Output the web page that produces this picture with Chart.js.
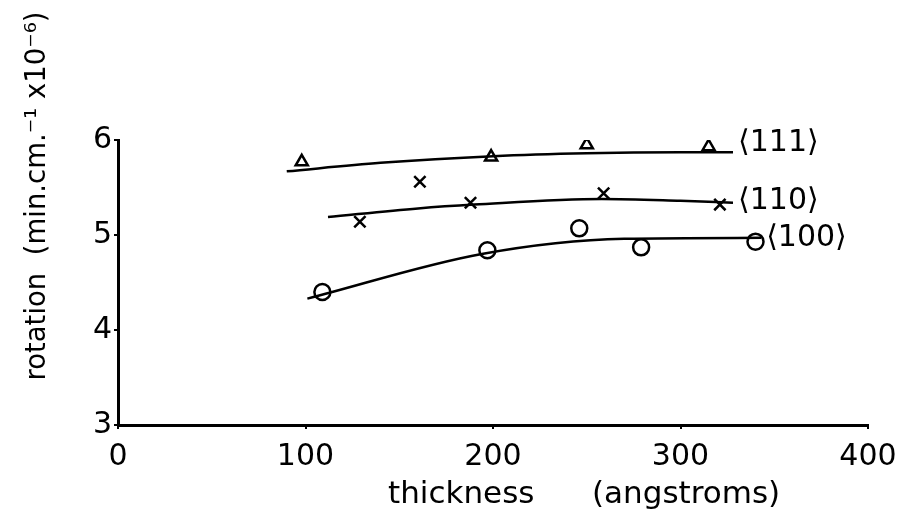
<!DOCTYPE html>
<html>
<head>
<meta charset="utf-8">
<script src="https://cdn.jsdelivr.net/npm/chart.js@4"></script>
<style>
  body { margin: 0; background: #fff; }
  canvas { display: block; }
</style>
</head>
<body>
<canvas id="chart" width="898" height="522"></canvas>
<script>
// measured points
const thick111 = [98, 144, 199, 250, 315];
const rot111 = [5.77, 6.05, 5.82, 5.95, 5.93];
const thick110 = [129, 161, 188, 259, 321];
const rot110 = [5.14, 5.56, 5.34, 5.44, 5.32];
const thick100 = [109, 197, 246, 279, 340];
const rot100 = [4.40, 4.84, 5.07, 4.87, 4.93];

// hand-drawn curves through the points
const curveX111 = [90, 140, 200, 250, 300, 328];
const curveY111 = [5.67, 5.76, 5.83, 5.86, 5.87, 5.87];
const curveX110 = [112, 160, 190, 258, 300, 328];
const curveY110 = [5.19, 5.28, 5.32, 5.38, 5.36, 5.34];
const curveX100 = [101, 194, 270, 343];
const curveY100 = [4.33, 4.80, 4.96, 4.97];

const curveLabels = ['\u27E8111\u27E9', '\u27E8110\u27E9', '\u27E8100\u27E9'];
const xTicks = [0, 100, 200, 300, 400];
const yTicks = [3, 4, 5, 6];

const FONT = '"DejaVu Sans", sans-serif';
const pts = (xs, ys) => xs.map((x, i) => ({ x: x, y: ys[i] }));

const markerSet = (data, style, radius) => ({
  type: 'scatter',
  data: data,
  pointStyle: style,
  pointRadius: radius,
  pointBorderWidth: 2.5,
  pointBorderColor: '#000',
  pointBackgroundColor: 'rgba(0,0,0,0)',
  showLine: false
});

const curveSet = (data) => ({
  type: 'line',
  data: data,
  borderColor: '#000',
  borderWidth: 2.5,
  pointRadius: 0,
  cubicInterpolationMode: 'monotone',
  fill: false
});

const curves = [pts(curveX111, curveY111), pts(curveX110, curveY110), pts(curveX100, curveY100)];
const labelDy = [-9, -1, 0];

const textPlugin = {
  id: 'texts',
  afterDraw(chart) {
    const c = chart.ctx;
    const xs = chart.scales.x, ys = chart.scales.y;
    c.save();
    c.fillStyle = '#000';
    c.font = '30px ' + FONT;
    c.textBaseline = 'middle';
    c.textAlign = 'left';
    curves.forEach((d, i) => {
      const last = d[d.length - 1];
      c.fillText(curveLabels[i], xs.getPixelForValue(last.x) + 5, ys.getPixelForValue(last.y) + labelDy[i]);
    });
    // axis titles
    c.font = '31px ' + FONT;
    c.fillText('thickness', 388, 495);
    c.fillText('(angstroms)', 592, 495);
    c.textAlign = 'center';
    c.font = '27.5px ' + FONT;
    c.translate(38, 196);
    c.rotate(-Math.PI / 2);
    c.fillText('rotation  (min.cm.\u207B\u00B9 x10\u207B\u2076)', 0, 0);
    c.restore();
  }
};

new Chart(document.getElementById('chart'), {
  data: {
    datasets: [
      markerSet(pts(thick111, rot111), 'triangle', 7),
      markerSet(pts(thick110, rot110), 'crossRot', 8),
      markerSet(pts(thick100, rot100), 'circle', 8),
      curveSet(curves[0]),
      curveSet(curves[1]),
      curveSet(curves[2])
    ]
  },
  options: {
    responsive: false,
    animation: false,
    layout: { padding: { left: 0, top: 140, right: 30, bottom: 0 } },
    plugins: { legend: { display: false }, tooltip: { enabled: false } },
    scales: {
      x: {
        type: 'linear',
        min: 0, max: 400,
        afterBuildTicks: (s) => { s.ticks = xTicks.map(v => ({ value: v })); },
        afterFit: (s) => { s.height = 97; s.paddingLeft = 0; s.paddingRight = 0; },
        grid: { drawOnChartArea: false, drawTicks: true, tickLength: 4, color: '#000', lineWidth: 2 },
        border: { display: true, color: '#000', width: 3 },
        ticks: { color: '#000', font: { family: FONT, size: 30 }, padding: 10, maxRotation: 0 }
      },
      y: {
        type: 'linear',
        min: 3, max: 6,
        afterBuildTicks: (s) => { s.ticks = yTicks.map(v => ({ value: v })); },
        afterFit: (s) => { s.width = 118; s.paddingTop = 0; s.paddingBottom = 0; },
        grid: { drawOnChartArea: false, drawTicks: true, tickLength: 4, color: '#000', lineWidth: 2 },
        border: { display: true, color: '#000', width: 3 },
        ticks: { color: '#000', font: { family: FONT, size: 30 }, padding: 2 }
      }
    }
  },
  plugins: [textPlugin]
});
</script>
</body>
</html>
